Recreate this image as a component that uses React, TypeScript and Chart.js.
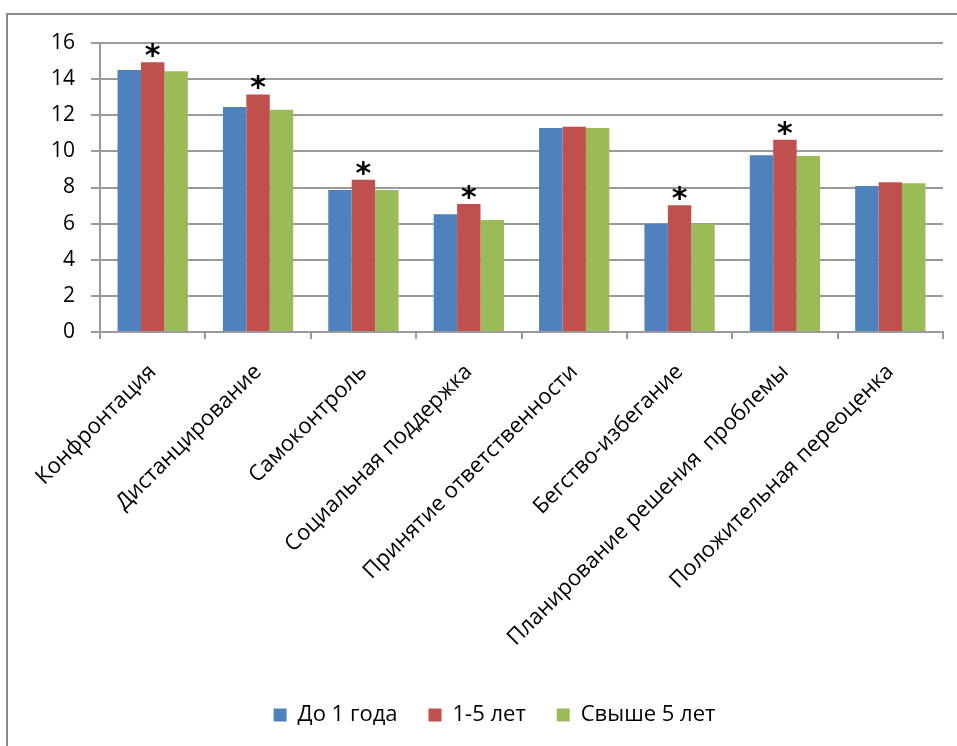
import React, { useEffect, useRef } from "react";
import { Chart, registerables } from "chart.js";

Chart.register(...registerables);

const categories = [
  "Конфронтация",
  "Дистанцирование",
  "Самоконтроль",
  "Социальная поддержка",
  "Принятие ответственности",
  "Бегство-избегание",
  "Планирование решения  проблемы",
  "Положительная переоценка",
];
const seriesNames = ["До 1 года", "1-5 лет", "Свыше 5 лет"];
const under1 = [14.5, 12.45, 7.86, 6.52, 11.3, 6.0, 9.79, 8.08];
const from1to5 = [14.94, 13.15, 8.43, 7.08, 11.37, 7.02, 10.65, 8.29];
const over5 = [14.44, 12.3, 7.86, 6.2, 11.3, 6.0, 9.74, 8.23];
const significant = [true, true, true, true, false, true, true, false];
const yTicks = [0, 2, 4, 6, 8, 10, 12, 14, 16];

const FONT = "'Open Sans', Lato, sans-serif";
const LINE = "#9a9a9a";

export default function App() {
  const ref = useRef<HTMLCanvasElement>(null);
  useEffect(() => {
    if (!ref.current) return;
    const asteriskPlugin = {
      id: "asterisks",
      afterDatasetsDraw(chart: any) {
        const meta = chart.getDatasetMeta(1);
        const ctx = chart.ctx;
        ctx.save();
        ctx.fillStyle = "#000";
        ctx.font = `bold 30px 'DejaVu Sans', sans-serif`;
        ctx.textAlign = "center";
        ctx.textBaseline = "alphabetic";
        meta.data.forEach((bar: any, i: number) => {
          if (!significant[i]) return;
          ctx.fillText("*", bar.x, bar.y + 3);
        });
        ctx.restore();
      },
    };
    const chart = new Chart(ref.current, {
      type: "bar",
      data: {
        labels: categories,
        datasets: [
          { label: seriesNames[0], data: under1, backgroundColor: "#4F81BD" },
          { label: seriesNames[1], data: from1to5, backgroundColor: "#C0504D" },
          { label: seriesNames[2], data: over5, backgroundColor: "#9BBB59" },
        ],
      },
      plugins: [asteriskPlugin],
      options: {
        animation: false,
        responsive: false,
        events: [],
        layout: { padding: { left: 46, right: 14, top: 43, bottom: 10 } },
        datasets: {
          bar: { barPercentage: 1, categoryPercentage: 0.667, borderWidth: 0 },
        },
        plugins: {
          tooltip: { enabled: false },
          legend: {
            position: "bottom",
            labels: {
              font: { family: FONT, size: 22 },
              color: "#000",
              boxWidth: 13,
              boxHeight: 13,
              padding: 31,
            },
          },
        },
        scales: {
          x: {
            afterFit(scale: any) {
              scale.height = 341;
            },
            grid: {
              drawOnChartArea: false,
              drawTicks: true,
              tickLength: 7,
              offset: true,
              color: LINE,
              lineWidth: 2,
            },
            border: { color: LINE, width: 2 },
            ticks: {
              autoSkip: false,
              minRotation: 45,
              maxRotation: 45,
              color: "#000",
              padding: 20,
              font: { family: FONT, size: 22 },
            },
          },
          y: {
            min: 0,
            max: 16,
            afterFit(scale: any) {
              scale.width = 54;
            },
            afterBuildTicks(scale: any) {
              scale.ticks = yTicks.map((v) => ({ value: v }));
            },
            grid: { color: LINE, lineWidth: 2, tickLength: 9 },
            border: { color: LINE, width: 2 },
            ticks: {
              color: "#000",
              padding: 16,
              font: { family: FONT, size: 21 },
            },
          },
        },
      },
    });
    return () => chart.destroy();
  }, []);
  return (
    <div style={{ position: "fixed", left: 0, top: 0, width: 957, height: 746, background: "#fff" }}>
      <div
        style={{
          position: "absolute",
          left: 6,
          top: 13,
          width: 960,
          height: 760,
          border: "2px solid #8a8a8a",
          boxSizing: "border-box",
        }}
      />
      <canvas ref={ref} width={957} height={746} style={{ position: "absolute", left: 0, top: 0 }} />
    </div>
  );
}
